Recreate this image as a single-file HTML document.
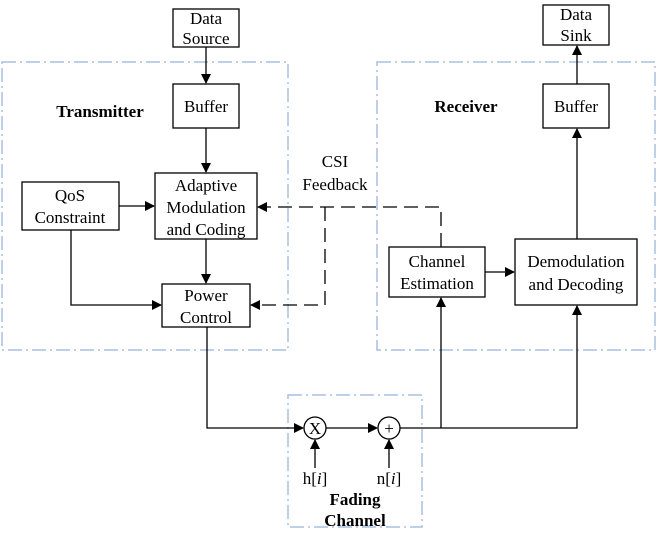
<!DOCTYPE html>
<html><head><style>body{margin:0;background:#fff}</style></head><body>
<svg width="657" height="533" xmlns="http://www.w3.org/2000/svg" font-family="Liberation Serif, serif" font-size="17" fill="none" stroke="#000">
<defs><marker id="a" markerWidth="10" markerHeight="10" refX="9" refY="5" orient="auto" markerUnits="userSpaceOnUse"><path d="M0,0 L10,5 L0,10z" fill="#000" stroke="none"/></marker></defs>
<g stroke="#a9bfe0" stroke-width="1.5" stroke-dasharray="14,4,2,4">
<rect x="2" y="62" width="286" height="288"/>
<rect x="377" y="62" width="278" height="288"/>
<rect x="288" y="395" width="134" height="132"/>
</g>
<g stroke-width="1.3">
<rect x="173" y="9" width="66" height="38"/>
<rect x="173" y="84" width="66" height="44"/>
<rect x="155" y="173" width="102" height="66"/>
<rect x="22" y="182" width="97" height="48"/>
<rect x="162" y="284" width="88" height="43"/>
<rect x="543" y="5" width="66" height="40"/>
<rect x="543" y="84" width="66" height="44"/>
<rect x="389" y="247" width="96" height="50"/>
<rect x="515" y="239" width="122" height="66"/>
<circle cx="315" cy="428" r="11"/>
<circle cx="389" cy="428" r="11"/>
<path d="M206,47V83" marker-end="url(#a)"/>
<path d="M206,128V172" marker-end="url(#a)"/>
<path d="M206,239V283" marker-end="url(#a)"/>
<path d="M119,206H154" marker-end="url(#a)"/>
<path d="M71,230V305H161" marker-end="url(#a)"/>
<path d="M207,327V428H303" marker-end="url(#a)"/>
<path d="M326,428H377" marker-end="url(#a)"/>
<path d="M400,428H577V306" marker-end="url(#a)"/>
<path d="M441,428V298" marker-end="url(#a)"/>
<path d="M315,468V440" marker-end="url(#a)"/>
<path d="M389,468V440" marker-end="url(#a)"/>
<path d="M485,272H514" marker-end="url(#a)"/>
<path d="M577,239V129" marker-end="url(#a)"/>
<path d="M577,84V46" marker-end="url(#a)"/>
<g stroke-dasharray="14,7">
<path d="M441,247V207H258" marker-end="url(#a)"/>
<path d="M325,207V305H251" marker-end="url(#a)"/>
</g>
</g>
<g fill="#000" stroke="none" text-anchor="middle">
<text x="206" y="24">Data</text><text x="206" y="44">Source</text>
<text x="206" y="112">Buffer</text>
<text x="206" y="191">Adaptive</text><text x="206" y="213">Modulation</text><text x="206" y="235">and Coding</text>
<text x="70" y="201">QoS</text><text x="70" y="223">Constraint</text>
<text x="206" y="301">Power</text><text x="206" y="323">Control</text>
<text x="576" y="20">Data</text><text x="576" y="41">Sink</text>
<text x="576" y="112">Buffer</text>
<text x="437" y="267">Channel</text><text x="437" y="289">Estimation</text>
<text x="576" y="267">Demodulation</text><text x="576" y="290">and Decoding</text>
<text x="335" y="167">CSI</text><text x="335" y="190">Feedback</text>
<text x="315" y="434">X</text><text x="389" y="434">+</text>
<text x="315" y="484">h[<tspan font-style="italic">i</tspan>]</text>
<text x="389" y="484">n[<tspan font-style="italic">i</tspan>]</text>
<g font-weight="bold"><text x="100" y="117">Transmitter</text><text x="466" y="112">Receiver</text>
<text x="355" y="505">Fading</text><text x="355" y="526">Channel</text></g>
</g>
</svg>
</body></html>
